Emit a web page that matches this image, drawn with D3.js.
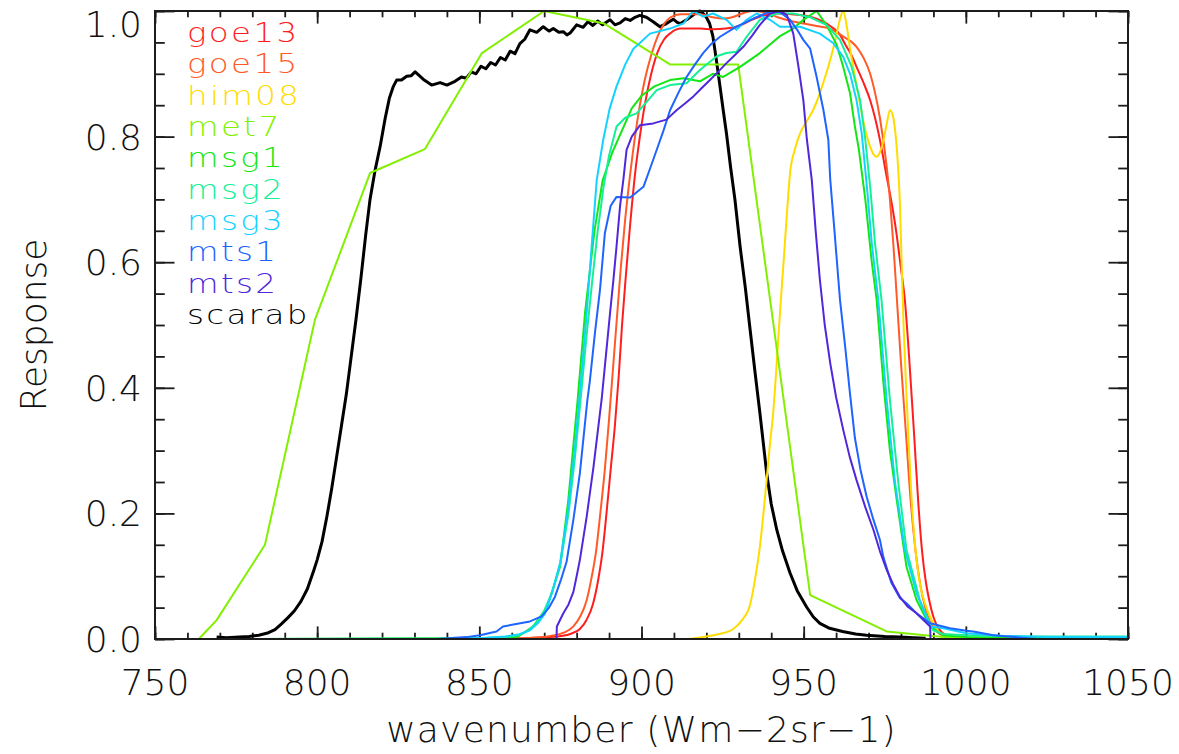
<!DOCTYPE html>
<html>
<head>
<meta charset="utf-8">
<script src="https://cdn.jsdelivr.net/npm/d3@7"></script>
<style>
  html, body { margin: 0; padding: 0; background: #ffffff; }
  svg { display: block; }
  text { font-family: "DejaVu Sans", sans-serif; font-weight: 200; }
</style>
</head>
<body>
<svg id="chart" width="1179" height="754"></svg>
<script>
// Spectral response functions, [wavenumber, response]
const seriesNames = ["goe13", "goe15", "him08", "met7", "msg1", "msg2", "msg3", "mts1", "mts2", "scarab"];

const goe13 = [[848,0],[860,0.001],[868,0.002],[874,0.004],[878,0.008],[881,0.016],[883,0.03],[885,0.055],[886.5,0.09],[888,0.14],[889.2,0.2],[890.5,0.27],[891.8,0.34],[893,0.42],[894,0.5],[895.2,0.58],[896.5,0.66],[898,0.74],[899.5,0.8],[901,0.85],[903,0.9],[905,0.935],[907,0.955],[909,0.965],[912,0.972],[918,0.972],[922,0.971],[926,0.972],[930,0.976],[934,0.986],[938,0.993],[942,0.996],[948,0.994],[952,0.991],[956,0.983],[958.5,0.975],[961.2,0.962],[963,0.945],[964.7,0.93],[966.3,0.911],[968.5,0.885],[970.5,0.858],[972,0.83],[973.5,0.795],[975.6,0.736],[977.1,0.695],[978.5,0.65],[980,0.59],[981.2,0.54],[982.5,0.45],[984,0.33],[985.3,0.22],[986.5,0.14],[987.7,0.09],[988.7,0.062],[990,0.035],[992,0.014],[995,0.004],[1000,0.001],[1005,0]];

const goe15 = [[848,0],[860,0.001],[866,0.002],[872,0.005],[876,0.01],[879,0.02],[881,0.035],[883,0.06],[884.5,0.095],[886,0.14],[887.3,0.2],[888.7,0.27],[890,0.35],[891.2,0.43],[892.4,0.51],[893.6,0.59],[895,0.67],[896.5,0.74],[898,0.8],[899.5,0.85],[901,0.89],[903,0.93],[905,0.96],[907,0.98],[909,0.99],[912,0.995],[918,0.995],[922,0.99],[925,0.988],[928,0.99],[931,0.996],[934,1.0],[938,0.998],[942,0.99],[946,0.984],[950,0.98],[954,0.976],[958,0.972],[962,0.96],[966.3,0.943],[968.5,0.925],[970.5,0.9],[972,0.87],[973.5,0.83],[975.6,0.752],[976.6,0.70],[977.7,0.625],[978.7,0.545],[980,0.44],[981.5,0.33],[983,0.22],[984.5,0.14],[986,0.085],[987.5,0.05],[989,0.027],[991,0.012],[994,0.004],[998,0.001],[1005,0]];

const him08 = [[911.9,0],[916,0.001],[920,0.004],[924,0.008],[928.3,0.016],[931,0.03],[933.5,0.055],[935,0.095],[936.5,0.147],[937.6,0.2],[938.6,0.255],[939.6,0.31],[940.6,0.36],[941.7,0.44],[942.7,0.52],[943.8,0.6],[944.8,0.675],[945.8,0.742],[947.3,0.78],[948.9,0.805],[951,0.825],[952.9,0.842],[954.5,0.862],[956,0.885],[957.5,0.91],[959,0.938],[960.2,0.965],[961.2,0.987],[962.2,1.0],[963.3,0.975],[964.3,0.94],[965.3,0.91],[966.9,0.865],[968.5,0.822],[970.5,0.784],[971.5,0.772],[972.5,0.768],[973.5,0.775],[974.5,0.792],[975.6,0.82],[976.6,0.842],[977.4,0.835],[978.2,0.81],[979.1,0.752],[979.7,0.69],[980.2,0.6],[980.8,0.5],[981.7,0.39],[982.5,0.3],[983.3,0.22],[984.5,0.14],[985.8,0.089],[987.5,0.055],[989,0.035],[990.5,0.02],[992,0.01],[995,0.004],[1000,0.001],[1004,0]];

const met7 = [[763.5,0],[769,0.03],[783.9,0.15],[799.3,0.508],[816.3,0.742],[833.2,0.78],[850.8,0.933],[870,1.0],[888.5,0.98],[908.8,0.915],[929.8,0.915],[952,0.07],[975.6,0.012],[989,0.005],[1000,0]];

const msg1 = [[781,0],[850,0.001],[858,0.002],[862,0.004],[866.6,0.02],[870.8,0.05],[874.9,0.115],[877.4,0.22],[880.3,0.38],[882.6,0.52],[885.5,0.65],[888,0.73],[891,0.775],[894,0.81],[897,0.845],[900,0.865],[904,0.88],[908.8,0.89],[913,0.893],[918,0.888],[922,0.9],[925.2,0.895],[930.4,0.911],[936.5,0.933],[942.7,0.96],[946.8,0.972],[949.9,0.986],[954,1.0],[957,0.978],[960.2,0.946],[962.2,0.911],[964.3,0.869],[965.8,0.816],[967,0.78],[969,0.7],[971,0.6],[972.5,0.54],[974.6,0.407],[976.6,0.30],[978.7,0.221],[981.7,0.115],[984.8,0.062],[989,0.02],[993,0.006],[1000,0.003],[1050,0.002]];

const msg2 = [[781,0],[850,0.001],[858,0.003],[862,0.006],[865,0.013],[867.5,0.025],[870,0.045],[872.5,0.075],[875,0.12],[877.5,0.2],[879.5,0.29],[881.2,0.38],[883,0.48],[884.8,0.57],[886.5,0.65],[888.3,0.72],[890,0.77],[892.3,0.816],[895,0.83],[898.5,0.837],[901.5,0.855],[904.7,0.874],[908.8,0.882],[913.9,0.885],[918,0.906],[923.2,0.928],[926.2,0.933],[929.3,0.935],[932.4,0.959],[936.5,0.986],[941.7,0.996],[946.7,0.996],[952,0.99],[957,0.978],[961.2,0.954],[964.8,0.911],[967.4,0.858],[969,0.795],[970.5,0.72],[972,0.63],[974,0.54],[976.6,0.38],[979.2,0.248],[981.7,0.142],[985.8,0.062],[989.9,0.014],[993,0.008],[1000,0.006],[1020,0.004],[1050,0.004]];

const msg3 = [[781,0],[840,0],[852,0.002],[858,0.004],[862,0.007],[865.6,0.014],[868,0.025],[870.2,0.04],[872.5,0.075],[874.9,0.121],[877.2,0.2],[879.5,0.306],[881.3,0.41],[883.1,0.519],[884.7,0.63],[886.2,0.731],[888.2,0.795],[890.2,0.845],[892.3,0.88],[895,0.915],[897.5,0.94],[899.5,0.949],[902.6,0.964],[908.8,0.972],[912.9,0.98],[915.9,1.0],[919,0.991],[922.1,0.996],[926.2,0.986],[929.3,0.97],[932.4,0.986],[935.5,0.996],[939.6,0.986],[942.7,0.975],[948.9,0.975],[955,0.964],[959.1,0.949],[962.2,0.927],[964.3,0.9],[966.3,0.858],[967.9,0.805],[969.5,0.72],[971,0.63],[973,0.54],[975.6,0.38],[978.2,0.248],[981.2,0.142],[984.8,0.073],[989,0.02],[993,0.017],[1000.2,0.009],[1010.5,0.005],[1026,0.003],[1050,0.003]];

const mts1 = [[836.9,0],[846,0.003],[850.2,0.006],[855.3,0.012],[857.3,0.02],[860.5,0.023],[865.6,0.028],[869.2,0.036],[871.5,0.05],[873.3,0.067],[875.2,0.095],[876.9,0.123],[879,0.19],[881,0.264],[883.3,0.38],[884.1,0.412],[885.7,0.49],[887.2,0.556],[888.7,0.646],[890.5,0.69],[892.3,0.704],[896.5,0.703],[900.6,0.72],[902.7,0.75],[904.7,0.779],[906.8,0.81],[908.8,0.842],[911.4,0.87],[913.9,0.895],[916.5,0.915],[919,0.933],[921.6,0.948],[924.2,0.959],[929.3,0.975],[934.5,0.988],[940,1.0],[942.7,0.998],[945.8,0.986],[948,0.97],[949.9,0.954],[952,0.94],[954,0.895],[956.1,0.842],[957.6,0.795],[958.2,0.731],[959.5,0.65],[960.7,0.572],[961.2,0.54],[962.8,0.465],[964.3,0.39],[965.8,0.32],[967.5,0.27],[969.4,0.227],[971.5,0.19],[973.5,0.158],[974.6,0.13],[977,0.09],[979.7,0.065],[981.7,0.057],[985,0.04],[989,0.025],[995.1,0.017],[1000.2,0.013],[1002.3,0.012],[1008.5,0.006],[1013,0.004],[1019.8,0.001],[1022,0]];

const mts2 = [[873.8,0],[873.9,0.02],[875.9,0.041],[877.5,0.055],[879,0.075],[880,0.1],[881,0.126],[883.1,0.195],[885.2,0.274],[887.2,0.36],[887.7,0.381],[889,0.45],[890.3,0.519],[891.3,0.57],[892.3,0.625],[893.4,0.69],[894.4,0.731],[895.4,0.779],[897,0.8],[899.5,0.818],[903.6,0.821],[907.7,0.827],[910.8,0.842],[913.5,0.853],[916,0.864],[918.5,0.877],[921.1,0.89],[923.6,0.903],[926.2,0.917],[928.8,0.93],[931.4,0.943],[934,0.96],[936.5,0.978],[939.6,0.996],[942.7,1.0],[944.8,0.994],[946.8,0.964],[948.4,0.911],[949.9,0.858],[951,0.795],[952.5,0.731],[953.7,0.65],[955,0.572],[956.5,0.5],[958.2,0.439],[960,0.385],[962.2,0.333],[964.2,0.29],[966.3,0.253],[969,0.21],[971.5,0.174],[973.5,0.14],[975.6,0.11],[977.5,0.088],[979.7,0.067],[982,0.052],[984.8,0.041],[987,0.03],[989,0.02],[989.1,0]];

const scarab = [[769,0.003],[772,0.002],[776,0.003],[779,0.004],[782,0.006],[785,0.01],[787,0.015],[789,0.024],[791,0.034],[793,0.045],[795,0.06],[797,0.08],[799,0.11],[800,0.126],[801.5,0.155],[803,0.195],[804.5,0.24],[806,0.29],[807.5,0.34],[809,0.39],[810.5,0.45],[812,0.51],[813.5,0.575],[815,0.645],[816.3,0.70],[817.8,0.745],[819.4,0.784],[821,0.83],[822.3,0.862],[823.5,0.88],[824.5,0.89],[826,0.89],[827.6,0.896],[829,0.897],[830.2,0.903],[831.5,0.897],[833,0.89],[835.3,0.882],[837.9,0.886],[840,0.882],[842.5,0.888],[844.5,0.895],[846,0.893],[847.5,0.903],[849,0.9],[850.5,0.912],[852,0.908],[853.5,0.918],[855,0.914],[856.5,0.926],[858,0.922],[859.5,0.936],[861,0.932],[862.5,0.948],[864,0.955],[865.6,0.97],[867.7,0.966],[869.7,0.975],[871.5,0.968],[872.8,0.972],[874.5,0.966],[875.9,0.967],[877,0.962],[878,0.965],[880,0.978],[882,0.974],[883.5,0.983],[885,0.977],[886.5,0.984],[888,0.978],[890.3,0.986],[891.8,0.978],[893.4,0.981],[895,0.988],[896.5,0.985],[898,0.99],[899.5,0.993],[901.5,0.99],[903.6,0.983],[905.7,0.975],[907.7,0.98],[909.8,0.987],[911,0.982],[912,0.98],[913.9,0.986],[916,0.994],[917,0.998],[918,1.0],[919,0.996],[920,0.99],[921,0.98],[922,0.96],[923,0.925],[924.2,0.88],[925.2,0.842],[926.2,0.805],[927.5,0.75],[928.8,0.70],[930.4,0.625],[932,0.56],[933.5,0.492],[935,0.425],[936.5,0.36],[937.6,0.31],[938.6,0.264],[940,0.215],[941.7,0.174],[943.5,0.14],[945.8,0.105],[948,0.077],[950.9,0.051],[953,0.035],[955,0.025],[958,0.017],[962,0.012],[966,0.008],[969.4,0.006],[975,0.004],[979.7,0.003],[984,0.002],[987.6,0.001]];

const seriesData = [goe13, goe15, him08, met7, msg1, msg2, msg3, mts1, mts2, scarab];
const seriesColors = ["#ff1e1e", "#ff5a28", "#ffdc00", "#82f000", "#14e614", "#14f096", "#14d2ff", "#1e64ff", "#5028dc", "#000000"];

// Axes
const xMajorTicks = [750, 800, 850, 900, 950, 1000, 1050];
const xMinorTicks = d3.range(750, 1051, 10);
const yMajorTicks = [0, 0.2, 0.4, 0.6, 0.8, 1.0];
const yMinorTicks = d3.range(0, 1.0001, 0.05);
const yTickLabels = ["0.0", "0.2", "0.4", "0.6", "0.8", "1.0"];
const xTitle = "wavenumber (Wm\u22122sr\u22121)";
const yTitle = "Response";

const plot = { left: 155, right: 1128, top: 11, bottom: 639 };
const x = d3.scaleLinear().domain([750, 1050]).range([plot.left, plot.right]);
const y = d3.scaleLinear().domain([0, 1]).range([plot.bottom, plot.top]);

const svg = d3.select("#chart");
const axisColor = "#1c1c1c";

// Tick marks on all four sides, pointing into the plot
function ticks(gen, vals, size, transform) {
  const g = svg.append("g").attr("transform", transform)
    .call(gen.tickValues(vals).tickSize(-size).tickFormat(""));
  g.select(".domain").remove();
  g.selectAll("line").attr("stroke", axisColor).attr("stroke-width", 1.8);
}
const xLen = 12.6, yLen = 19.5;
ticks(d3.axisBottom(x), xMinorTicks, xLen / 2, `translate(0,${plot.bottom})`);
ticks(d3.axisBottom(x), xMajorTicks, xLen, `translate(0,${plot.bottom})`);
ticks(d3.axisTop(x), xMinorTicks, xLen / 2, `translate(0,${plot.top})`);
ticks(d3.axisTop(x), xMajorTicks, xLen, `translate(0,${plot.top})`);
ticks(d3.axisLeft(y), yMinorTicks, yLen / 2, `translate(${plot.left},0)`);
ticks(d3.axisLeft(y), yMajorTicks, yLen, `translate(${plot.left},0)`);
ticks(d3.axisRight(y), yMinorTicks, yLen / 2, `translate(${plot.right},0)`);
ticks(d3.axisRight(y), yMajorTicks, yLen, `translate(${plot.right},0)`);

// Curves: scarab underneath, satellites on top in legend order
const smooth = new Set(["goe13", "goe15", "him08"]);
const order = [9, 0, 1, 2, 3, 4, 5, 6, 7, 8];
order.forEach(i => {
  const name = seriesNames[i];
  const line = d3.line()
    .x(d => x(d[0]))
    .y(d => y(d[1]))
    .curve(smooth.has(name) ? d3.curveMonotoneX : d3.curveLinear);
  svg.append("path")
    .datum(seriesData[i])
    .attr("fill", "none")
    .attr("stroke", seriesColors[i])
    .attr("stroke-width", name === "scarab" ? 3 : 2)
    .attr("stroke-linejoin", "round")
    .attr("d", line);
});

// Frame
svg.append("rect")
  .attr("x", plot.left).attr("y", plot.top)
  .attr("width", plot.right - plot.left).attr("height", plot.bottom - plot.top)
  .attr("fill", "none").attr("stroke", axisColor).attr("stroke-width", 2);

// Tick labels
const labelSize = 36;
svg.append("g").selectAll("text").data(xMajorTicks).join("text")
  .attr("x", d => x(d)).attr("y", 695)
  .attr("text-anchor", "middle")
  .attr("font-size", labelSize).attr("fill", "#111")
  .text(d => d);

svg.append("g").selectAll("text").data(yMajorTicks).join("text")
  .attr("x", 142)
  .attr("y", d => (d === 1 ? y(d) + 26 : y(d) + 13))
  .attr("text-anchor", "end")
  .attr("font-size", labelSize).attr("fill", "#111")
  .text((d, i) => yTickLabels[i]);

// Axis titles
svg.append("text")
  .attr("x", (plot.left + plot.right) / 2).attr("y", 742)
  .attr("text-anchor", "middle")
  .attr("font-size", labelSize).attr("fill", "#111")
  .attr("letter-spacing", 1.2)
  .text(xTitle);

svg.append("text")
  .attr("transform", "translate(46,325) rotate(-90)")
  .attr("text-anchor", "middle")
  .attr("font-size", labelSize).attr("fill", "#111")
  .text(yTitle);

// Legend: series names in their line colours, stacked top-left
svg.append("g").selectAll("text").data(seriesNames).join("text")
  .attr("transform", (d, i) => `translate(187,${42 + 31.35 * i}) scale(1.2,1)`)
  .attr("font-size", 27)
  .attr("letter-spacing", 2)
  .attr("fill", (d, i) => seriesColors[i])
  .text(d => d);
</script>
</body>
</html>
